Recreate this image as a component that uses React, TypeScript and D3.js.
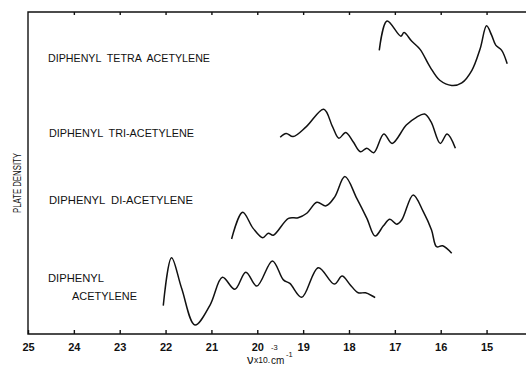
import * as d3 from "d3";
import { useEffect, useRef } from "react";

// wavenumber (x10^3 cm^-1) and plate density (arbitrary units, stacked)
const tetraNu = [17.34, 17.17, 16.87, 16.8, 16.63, 16.45, 16.23, 16.02, 15.76, 15.54, 15.32, 15.14, 15.0, 14.89, 14.8, 14.67, 14.55];
const tetraD = [88.1, 97.2, 92.5, 93.6, 90.9, 88.4, 82.9, 78.8, 77.2, 78.0, 81.9, 88.6, 95.7, 92.8, 89.7, 88.1, 83.9];

const triNu = [19.5, 19.37, 19.22, 18.93, 18.55, 18.36, 18.22, 18.07, 17.91, 17.75, 17.61, 17.46, 17.24, 17.06, 16.75, 16.53, 16.35, 16.21, 16.01, 15.86, 15.68];
const triD = [61.1, 62.3, 61.3, 64.4, 69.8, 64.4, 60.8, 62.6, 59.7, 56.6, 57.7, 56.3, 62.1, 59.2, 64.9, 67.3, 68.3, 65.9, 59.2, 62.1, 57.7];

const diNu = [20.56, 20.32, 20.09, 19.88, 19.76, 19.65, 19.32, 19.11, 18.92, 18.7, 18.5, 18.31, 18.09, 17.83, 17.61, 17.43, 17.25, 17.11, 16.96, 16.85, 16.6, 16.38, 16.2, 16.09, 15.96, 15.76];
const diD = [29.5, 37.8, 32.8, 29.9, 31.3, 30.7, 35.9, 36.1, 37.5, 40.9, 39.8, 42.6, 48.9, 42.1, 35.9, 30.4, 33.6, 35.6, 34.1, 35.4, 43.2, 38.0, 32.3, 27.1, 27.4, 25.1];

const monoNu = [22.05, 21.87, 21.65, 21.36, 21.03, 20.76, 20.49, 20.25, 20.01, 19.67, 19.43, 19.29, 19.03, 18.67, 18.32, 18.15, 17.98, 17.8, 17.64, 17.43];
const monoD = [8.8, 23.7, 14.2, 2.8, 9.0, 17.6, 13.9, 19.2, 14.9, 22.7, 16.8, 15.7, 11.4, 20.6, 15.5, 18.0, 15.4, 12.8, 12.8, 11.3];

const xTicks = d3.range(15, 26);

const series = [
  { nu: tetraNu, d: tetraD },
  { nu: triNu, d: triD },
  { nu: diNu, d: diD },
  { nu: monoNu, d: monoD },
];

// compound names: [text, x, baseline y, width]
const labels: [string, number, number, number][] = [
  ["DIPHENYL  TETRA  ACETYLENE", 48, 62, 162],
  ["DIPHENYL  TRI-ACETYLENE", 49, 137, 145],
  ["DIPHENYL  DI-ACETYLENE", 49, 204, 144],
  ["DIPHENYL", 48, 282, 56],
  ["ACETYLENE", 72, 300, 65],
];

// axis title pieces: [text, x, baseline y, size]
const xTitle: [string, number, number, number][] = [
  ["ν", 247, 364, 13],
  ["x10.", 254, 363, 8.5],
  ["-3", 271, 350, 7.5],
  ["cm", 271, 364, 10],
  ["-1", 286, 357, 7.5],
];

const W = 526;
const H = 368;
const left = 28, top = 12, bottom = 334;

export default function App() {
  const ref = useRef<SVGSVGElement>(null);

  useEffect(() => {
    const svg = d3.select(ref.current);
    svg.selectAll("*").remove();

    const x = d3.scaleLinear().domain([25, 14.14]).range([left, W]);
    const y = d3.scaleLinear().domain([0, 100]).range([bottom, top]);
    const font = "'Liberation Sans', Arial, sans-serif";

    // frame
    svg.append("path")
      .attr("d", `M${W},${top}H${left}V${bottom}H${W}`)
      .attr("fill", "none")
      .attr("stroke", "#111")
      .attr("stroke-width", 1.4);

    // bottom axis, ticks pointing up
    const gx = svg.append("g")
      .attr("transform", `translate(0,${bottom})`)
      .call(d3.axisBottom(x).tickValues(xTicks).tickSize(-4).tickPadding(9).tickFormat(d3.format("d")));
    gx.select(".domain").remove();
    gx.selectAll("line").attr("stroke", "#111").attr("stroke-width", 1.4);
    gx.selectAll("text")
      .attr("font-family", font)
      .attr("font-size", 11)
      .attr("font-weight", "bold")
      .attr("fill", "#111");

    // top axis, ticks pointing down
    const gt = svg.append("g")
      .attr("transform", `translate(0,${top})`)
      .call(d3.axisTop(x).tickValues(xTicks.filter(v => v < 25)).tickSize(-3).tickFormat(() => ""));
    gt.select(".domain").remove();
    gt.selectAll("line").attr("stroke", "#111").attr("stroke-width", 1.4);

    const line = d3.line<[number, number]>()
      .x(p => x(p[0]))
      .y(p => y(p[1]))
      .curve(d3.curveCatmullRom.alpha(0.5));

    svg.append("g")
      .selectAll("path")
      .data(series)
      .join("path")
      .attr("d", s => line(s.nu.map((v, i) => [v, s.d[i]] as [number, number])))
      .attr("fill", "none")
      .attr("stroke", "#111")
      .attr("stroke-width", 1.5)
      .attr("stroke-linejoin", "round");

    svg.append("g")
      .selectAll("text")
      .data(labels)
      .join("text")
      .attr("x", l => l[1])
      .attr("y", l => l[2])
      .attr("textLength", l => l[3])
      .attr("lengthAdjust", "spacingAndGlyphs")
      .attr("font-family", font)
      .attr("font-size", 11)
      .attr("fill", "#111")
      .style("white-space", "pre")
      .text(l => l[0]);

    svg.append("text")
      .attr("transform", `translate(21,183) rotate(-90)`)
      .attr("text-anchor", "middle")
      .attr("font-family", font)
      .attr("font-size", 11.5)
      .attr("textLength", 60)
      .attr("lengthAdjust", "spacingAndGlyphs")
      .attr("fill", "#111")
      .text("PLATE DENSITY");

    svg.append("g")
      .selectAll("text")
      .data(xTitle)
      .join("text")
      .attr("x", t => t[1])
      .attr("y", t => t[2])
      .attr("font-size", t => t[3])
      .attr("font-family", font)
      .attr("fill", "#111")
      .text(t => t[0]);
  }, []);

  return (
    <svg
      ref={ref}
      width={W}
      height={H}
      style={{ position: "absolute", left: 0, top: 0, background: "#fff" }}
    />
  );
}
